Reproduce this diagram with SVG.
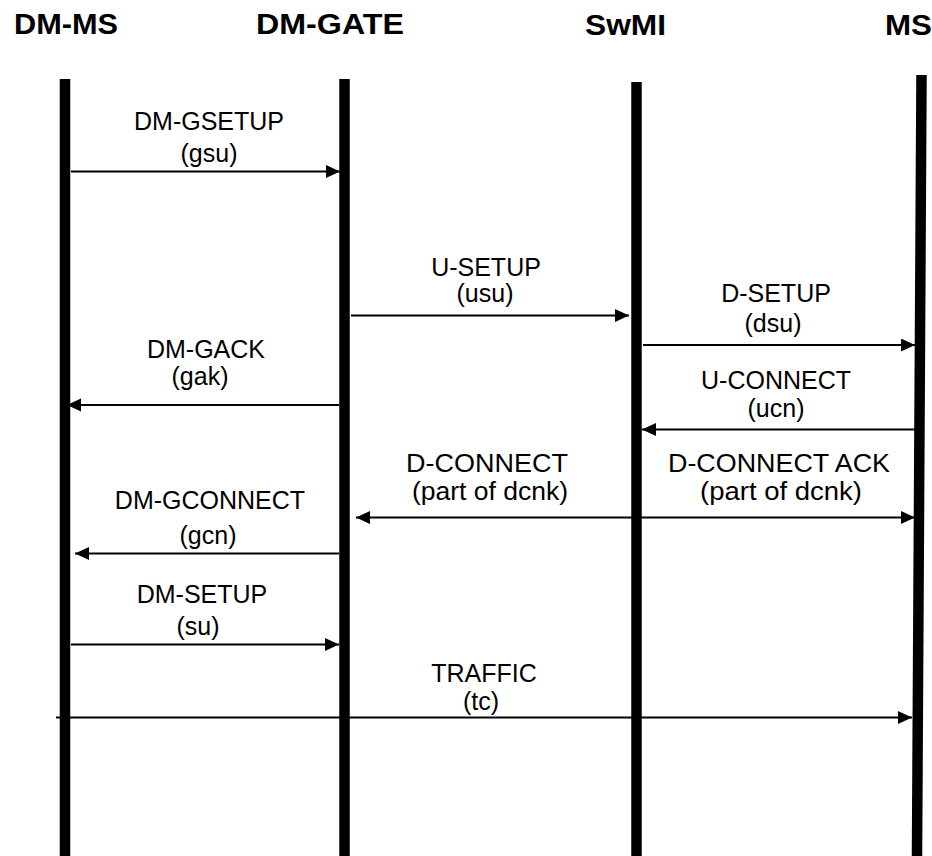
<svg xmlns="http://www.w3.org/2000/svg" width="932" height="856" viewBox="0 0 932 856">
<defs>
<style>
.hdr{font-family:"Liberation Sans",Arial,sans-serif;font-weight:bold;font-size:29px;fill:#000}
.lbl{font-family:"Liberation Sans",Arial,sans-serif;font-size:25px;fill:#000;text-anchor:middle}
.life{stroke:#000;stroke-width:10.5;fill:none}
.msg{stroke:#000;stroke-width:2;fill:none;marker-end:url(#ah)}
</style>
<marker id="ah" markerUnits="userSpaceOnUse" markerWidth="15" markerHeight="14" refX="14" refY="6.5" orient="auto">
<path d="M0,0 L14,6.5 L0,13 z" fill="#000"/>
</marker>
</defs>
<rect width="932" height="856" fill="#fff"/>
<g id="dm-ms">
<text class="hdr" x="14" y="34" textLength="104" lengthAdjust="spacingAndGlyphs">DM-MS</text>
<line class="life" x1="65" y1="79" x2="65" y2="856"/>
</g>
<g id="dm-gate">
<text class="hdr" x="256" y="34" textLength="148" lengthAdjust="spacingAndGlyphs">DM-GATE</text>
<line class="life" x1="344.5" y1="79" x2="344.5" y2="856"/>
</g>
<g id="swmi">
<text class="hdr" x="585" y="35" textLength="81" lengthAdjust="spacingAndGlyphs">SwMI</text>
<line class="life" x1="636.5" y1="82" x2="636.5" y2="856"/>
</g>
<g id="ms">
<text class="hdr" x="885" y="35" textLength="47" lengthAdjust="spacingAndGlyphs">MS</text>
<line class="life" x1="921.5" y1="75" x2="917" y2="856"/>
</g>
<g id="connectors">
<g id="m-gsu">
<line class="msg" x1="71" y1="171.5" x2="340" y2="171.5"/>
<text class="lbl" x="209" y="130">DM-GSETUP</text>
<text class="lbl" x="209" y="162">(gsu)</text>
</g>
<g id="m-usu">
<line class="msg" x1="351" y1="315.5" x2="629" y2="315.5"/>
<text class="lbl" x="486" y="276">U-SETUP</text>
<text class="lbl" x="485" y="301.5">(usu)</text>
</g>
<g id="m-dsu">
<line class="msg" x1="643" y1="345" x2="915" y2="345"/>
<text class="lbl" x="776" y="301.5">D-SETUP</text>
<text class="lbl" x="773" y="331.5">(dsu)</text>
</g>
<g id="m-ucn">
<line class="msg" x1="915" y1="429.5" x2="642" y2="429.5"/>
<text class="lbl" x="776" y="388.5">U-CONNECT</text>
<text class="lbl" x="776" y="416.5">(ucn)</text>
</g>
<g id="m-gak">
<line class="msg" x1="339" y1="405" x2="67" y2="405"/>
<text class="lbl" x="206" y="358">DM-GACK</text>
<text class="lbl" x="200" y="384.5">(gak)</text>
</g>
<g id="m-dcnk1">
<line class="msg" x1="636" y1="517.5" x2="356" y2="517.5"/>
<text class="lbl" x="487" y="471.5" textLength="162" lengthAdjust="spacingAndGlyphs">D-CONNECT</text>
<text class="lbl" x="490" y="499.5" textLength="156" lengthAdjust="spacingAndGlyphs">(part of dcnk)</text>
</g>
<g id="m-dcnk2">
<line class="msg" x1="636" y1="517.5" x2="915" y2="517.5"/>
<text class="lbl" x="779" y="471.5" textLength="222" lengthAdjust="spacingAndGlyphs">D-CONNECT ACK</text>
<text class="lbl" x="781" y="499.5" textLength="162" lengthAdjust="spacingAndGlyphs">(part of dcnk)</text>
</g>
<g id="m-gcn">
<line class="msg" x1="339" y1="553.5" x2="75" y2="553.5"/>
<text class="lbl" x="210" y="508.5">DM-GCONNECT</text>
<text class="lbl" x="208" y="544">(gcn)</text>
</g>
<g id="m-su">
<line class="msg" x1="71" y1="644.5" x2="339" y2="644.5"/>
<text class="lbl" x="202" y="603">DM-SETUP</text>
<text class="lbl" x="198" y="635">(su)</text>
</g>
<g id="m-tc">
<line class="msg" x1="56" y1="717.5" x2="912" y2="717.5"/>
<text class="lbl" x="484" y="681.5">TRAFFIC</text>
<text class="lbl" x="481" y="710">(tc)</text>
</g>
</g>
</svg>
